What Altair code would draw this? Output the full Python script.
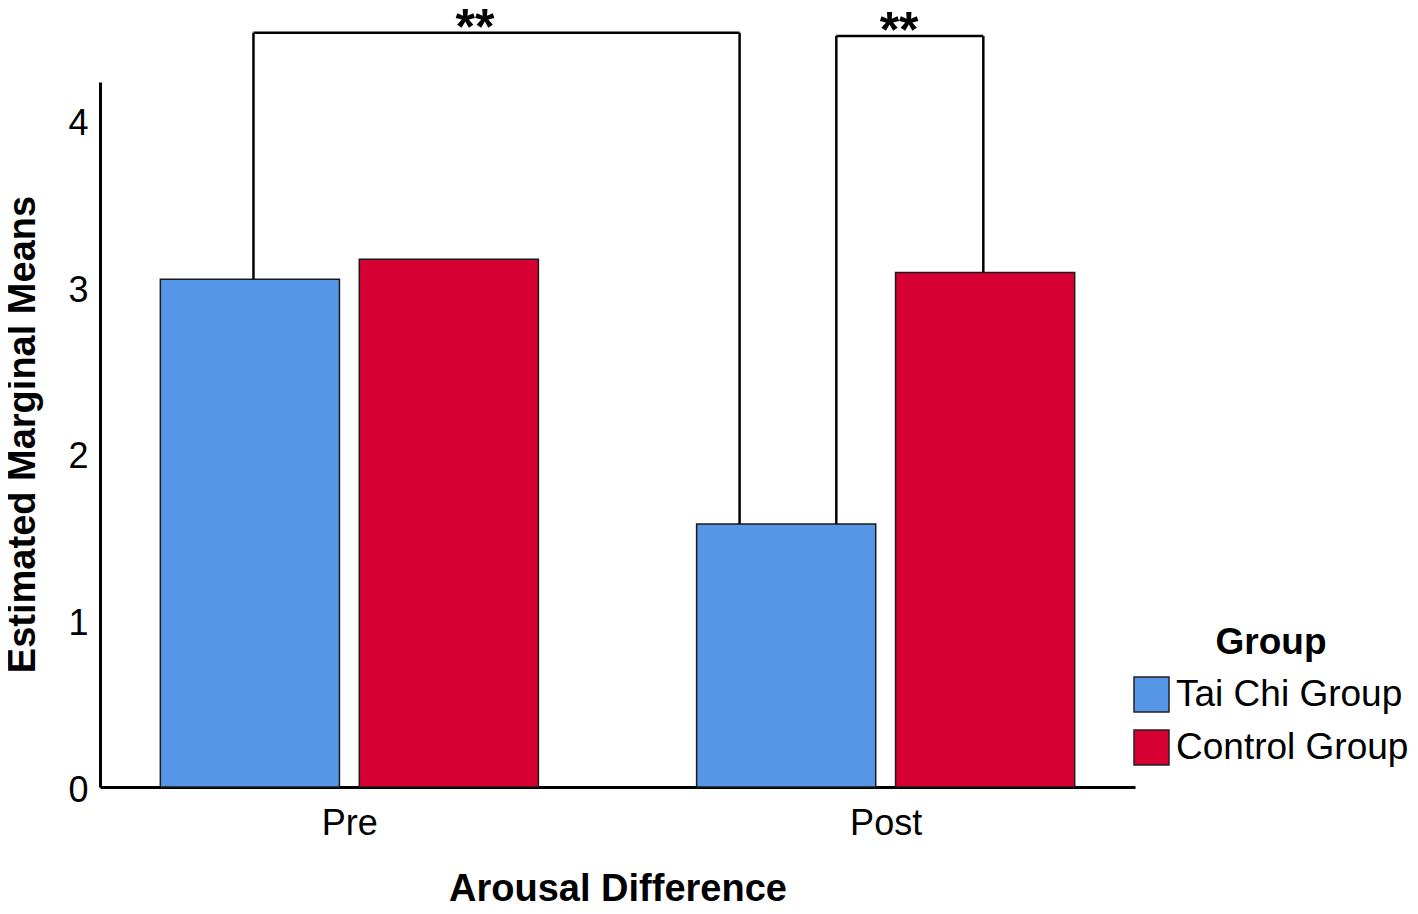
import altair as alt
import pandas as pd

# ---- data ----
times = ["Pre", "Post"]
groups = ["Tai Chi Group", "Control Group"]
tai_chi_means = [3.05, 1.58]
control_means = [3.17, 3.09]
group_colors = ["#5596E6", "#D60032"]

# significance brackets (annotation)
bracket_labels = ["**", "**"]
bracket_from = [("Pre", "Tai Chi Group"), ("Post", "Tai Chi Group")]
bracket_to = [("Post", "Tai Chi Group"), ("Post", "Control Group")]
bracket_top = [4.53, 4.51]
bracket_from_frac = [0.52, 0.78]   # where the leg sits across the bar
bracket_to_frac = [0.24, 0.49]
star_shift = [-0.04, -0.02]        # label shift from bracket centre (step units)

# ---- layout constants (in category-step units) ----
BAR_W = 0.334
GAP = 0.037
HALF = BAR_W + GAP / 2
FONT = "Liberation Sans"

means = {"Tai Chi Group": tai_chi_means, "Control Group": control_means}

rows = []
for ti, t in enumerate(times):
    for gi, g in enumerate(groups):
        rows.append({"time": t, "group": g, "ti": ti, "gi": gi, "mean": means[g][ti]})
bars_df = pd.DataFrame(rows)


def bar_val(t, g):
    return means[g][times.index(t)]


def pos(t, g, frac):
    return times.index(t) - HALF + groups.index(g) * (BAR_W + GAP) + frac * BAR_W


legs, spans, stars = [], [], []
for lab, f, tt, ff, tf, top, sh in zip(bracket_labels, bracket_from, bracket_to,
                                       bracket_from_frac, bracket_to_frac,
                                       bracket_top, star_shift):
    xa = pos(f[0], f[1], ff)
    xb = pos(tt[0], tt[1], tf)
    legs.append({"x": xa, "y": bar_val(*f), "y2": top})
    legs.append({"x": xb, "y": bar_val(*tt), "y2": top})
    spans.append({"x": xa, "x2": xb, "y": top})
    stars.append({"x": (xa + xb) / 2 + sh, "y": top, "label": lab})
legs_df = pd.DataFrame(legs)
spans_df = pd.DataFrame(spans)
stars_df = pd.DataFrame(stars)

label_list = "[" + ",".join("'" + t + "'" for t in times) + "]"

xscale = alt.Scale(domain=[-0.465, 1.465], nice=False, zero=False)
yscale = alt.Scale(domain=[0, 4.234], nice=False, zero=True)

xaxis = alt.Axis(
    title="Arousal Difference", values=[0, 1], labelExpr=label_list + "[datum.value]",
    ticks=False, grid=False, domainColor="black", domainWidth=3,
    labelFontSize=36, labelPadding=19, labelColor="black", labelFont=FONT,
    titleFontSize=38, titleFontWeight="bold", titleFont=FONT, titleColor="black",
    titleBaseline="alphabetic", titleY=113,
)
yaxis = alt.Axis(
    title="Estimated Marginal Means", values=[0, 1, 2, 3, 4], format="d",
    ticks=False, grid=False, domainColor="black", domainWidth=3,
    labelFontSize=36, labelPadding=12, labelColor="black", labelFont=FONT, labelOffset=3,
    titleFontSize=38, titleFontWeight="bold", titleFont=FONT, titleColor="black",
    titleBaseline="alphabetic", titleX=-66, titleY=352,
)

bars = alt.Chart(bars_df).transform_calculate(
    x0=f"datum.ti - {HALF} + datum.gi * {BAR_W + GAP}",
).transform_calculate(
    x1=f"datum.x0 + {BAR_W}",
).mark_rect(stroke="#1a1a1a", strokeWidth=1.5).encode(
    x=alt.X("x0:Q", scale=xscale, axis=xaxis),
    x2="x1:Q",
    y=alt.Y("mean:Q", scale=yscale, axis=yaxis),
    y2=alt.datum(0),
    color=alt.Color(
        "group:N",
        scale=alt.Scale(domain=groups, range=group_colors),
        sort=groups,
        legend=alt.Legend(
            orient="none", legendX=1033, legendY=543, title="Group",
            titleFontSize=37, titleFontWeight="bold", titleFont=FONT, titleColor="black",
            titleAnchor="middle", titlePadding=14,
            labelFontSize=37, labelFont=FONT, labelColor="black", labelLimit=400,
            labelOffset=6, rowPadding=12,
            symbolType="square", symbolSize=1225, symbolStrokeColor="#222",
            symbolStrokeWidth=1.5, symbolOpacity=1,
        ),
    ),
)

leg_rules = alt.Chart(legs_df).mark_rule(color="black", strokeWidth=2.5).encode(
    x=alt.X("x:Q", scale=xscale, axis=xaxis),
    y=alt.Y("y:Q", scale=yscale, axis=yaxis),
    y2="y2:Q",
)

span_rules = alt.Chart(spans_df).mark_rule(color="black", strokeWidth=2.5).encode(
    x=alt.X("x:Q", scale=xscale, axis=xaxis),
    x2="x2:Q",
    y=alt.Y("y:Q", scale=yscale, axis=yaxis),
)

star_text = alt.Chart(stars_df).mark_text(
    fontSize=50, fontWeight="bold", font=FONT, baseline="alphabetic",
    align="center", dy=11, color="black",
).encode(
    x=alt.X("x:Q", scale=xscale, axis=xaxis),
    y=alt.Y("y:Q", scale=yscale, axis=yaxis),
    text="label:N",
)

chart = alt.layer(bars, leg_rules, span_rules, star_text).properties(
    width=1035, height=705,
    autosize=alt.AutoSizeParams(type="none"),
    padding={"left": 92, "top": 74, "right": 275, "bottom": 115},
    background="white",
).configure(font=FONT).configure_view(strokeWidth=0, stroke="transparent")

chart.save("out.html", embed_options={"renderer": "svg", "actions": False})
